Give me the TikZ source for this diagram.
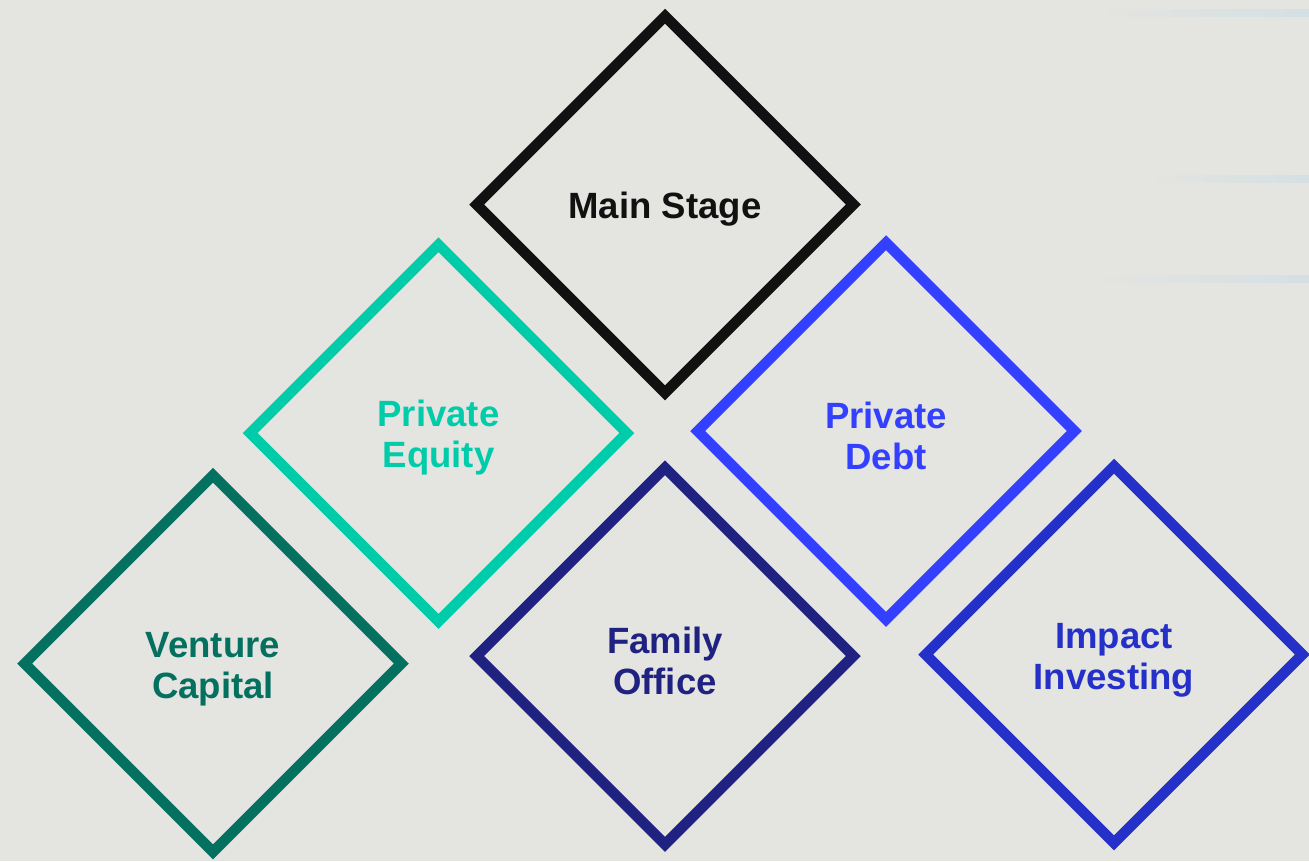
\documentclass[tikz,border=0pt]{standalone}
\usepackage{fontspec}
\setmainfont{Liberation Sans}
\usetikzlibrary{backgrounds,shapes.geometric}
\pgfdeclarelayer{bglayer}
\pgfdeclarelayer{nodelayer}
\pgfsetlayers{bglayer,main,nodelayer}
\definecolor{paper}{RGB}{228,228,224}
\definecolor{streak}{RGB}{212,224,228}
\definecolor{ink}{RGB}{17,17,17}
\definecolor{mint}{RGB}{0,204,170}
\definecolor{pine}{RGB}{3,112,96}
\definecolor{navy}{RGB}{31,34,128}
\definecolor{azure}{RGB}{51,64,255}
\definecolor{royal}{RGB}{36,48,200}
\newcommand{\topstrut}{\rule{0pt}{20.5pt}}
\tikzset{font=\bfseries\fontsize{20.8}{23.3}\selectfont}
\tikzstyle{stage}=[diamond,aspect=1,minimum size=7.62cm,inner sep=0pt,line width=0.21cm,align=center,fill=none]
\tikzstyle{main}=[stage,draw=ink,text=ink]
\tikzstyle{pe}=[stage,draw=mint,text=mint]
\tikzstyle{vc}=[stage,draw=pine,text=pine]
\tikzstyle{fo}=[stage,draw=navy,text=navy]
\tikzstyle{pd}=[stage,draw=azure,text=azure]
\tikzstyle{ii}=[stage,draw=royal,text=royal]
\tikzstyle{glow}=[draw=none,left color=paper,right color=streak]

\begin{document}
\begin{tikzpicture}
	\begin{pgfonlayer}{bglayer}
		\fill[paper] (0,0) rectangle (26.18,-17.22);
		\shade[glow] (22.0,-0.18) rectangle (26.18,-0.32);
		\shade[glow] (23.0,-3.51) rectangle (26.18,-3.65);
		\shade[glow] (21.9,-5.51) rectangle (26.18,-5.65);
	\end{pgfonlayer}
	\useasboundingbox (0,0) rectangle (26.18,-17.22);
	\begin{pgfonlayer}{nodelayer}
		\node [style=main] (0) at (13.30, -4.09) {\topstrut Main Stage};
		\node [style=pe] (1) at (8.77, -8.66) {\topstrut Private\\Equity};
		\node [style=pd] (2) at (17.72, -8.62) {\topstrut Private\\Debt};
		\node [style=vc] (3) at (4.26, -13.27) {\topstrut Venture\\Capital};
		\node [style=fo] (4) at (13.30, -13.12) {\topstrut Family\\Office};
		\node [style=ii] (5) at (22.28, -13.09) {\topstrut Impact\\Investing};
	\end{pgfonlayer}
\end{tikzpicture}
\end{document}
